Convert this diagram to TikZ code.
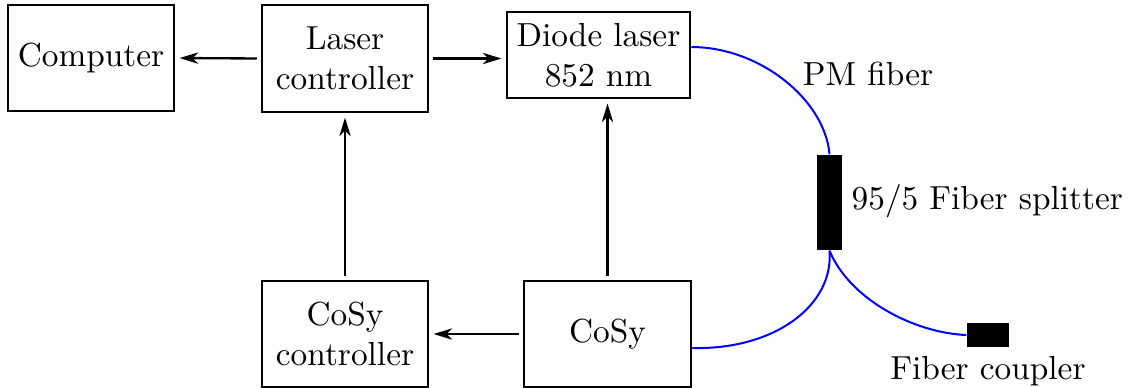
\documentclass[tikz,border=0pt]{standalone}
\usetikzlibrary{arrows.meta,calc}
\begin{document}
\begin{tikzpicture}[x=0.3pt,y=-0.3pt,
  box/.style={draw,line width=0.75pt,align=center,inner sep=0pt},
  blk/.style={fill=black,draw=none,inner sep=0pt},
  arr/.style={-{Stealth[length=5.6pt,width=3.4pt,inset=1.7pt]},line width=0.7pt,shorten >=1.3pt,shorten <=1.2pt},
  fib/.style={blue,line width=0.6pt}]
\useasboundingbox (0,0) rectangle (1129,387);
\node[box,minimum width=49.8pt,minimum height=31.8pt] (comp) at (91,58) {Computer};
\node[box,minimum width=49.8pt,minimum height=32.1pt] (lc) at (345,58.5) {Laser\\controller};
\node[box,minimum width=54.9pt,minimum height=25.8pt] (dl) at (598.5,55) {Diode laser\\852 nm};
\node[box,minimum width=49.8pt,minimum height=31.8pt] (cc) at (345,334) {CoSy\\controller};
\node[box,minimum width=50.1pt,minimum height=31.8pt] (cosy) at (607.5,334) {CoSy};
\node[blk,minimum width=7.5pt,minimum height=28.5pt] (spl) at (829.5,202.5) {};
\node[blk,minimum width=12.6pt,minimum height=7.2pt] (cpl) at (988,335) {};
\node (pm) at (868,74) {PM fiber};
\node[anchor=west,inner sep=0pt] (spltxt) at (851,201) {95/5 Fiber splitter};
\node (cpltxt) at (988,371) {Fiber coupler};
\draw[arr] (lc.west) -- (comp.east);
\draw[arr] (lc.east) -- (dl.west |- lc.east);
\draw[arr] (cc.north) -- (lc.south);
\draw[arr] (cosy.north) -- (cosy.north |- dl.south);
\draw[arr] (cosy.west) -- (cc.east);
\coordinate (dlout) at ([yshift=2.4pt]dl.east);
\coordinate (cosyout) at ([yshift=-4.2pt]cosy.east);
\draw[fib] (dlout) .. controls (760,47) and (825,100) .. (spl.north);
\draw[fib] (spl.south) .. controls (834,305) and (775,350) .. (cosyout);
\draw[fib] (spl.south) .. controls (850,300) and (915,333) .. (cpl.west);
\end{tikzpicture}
\end{document}
